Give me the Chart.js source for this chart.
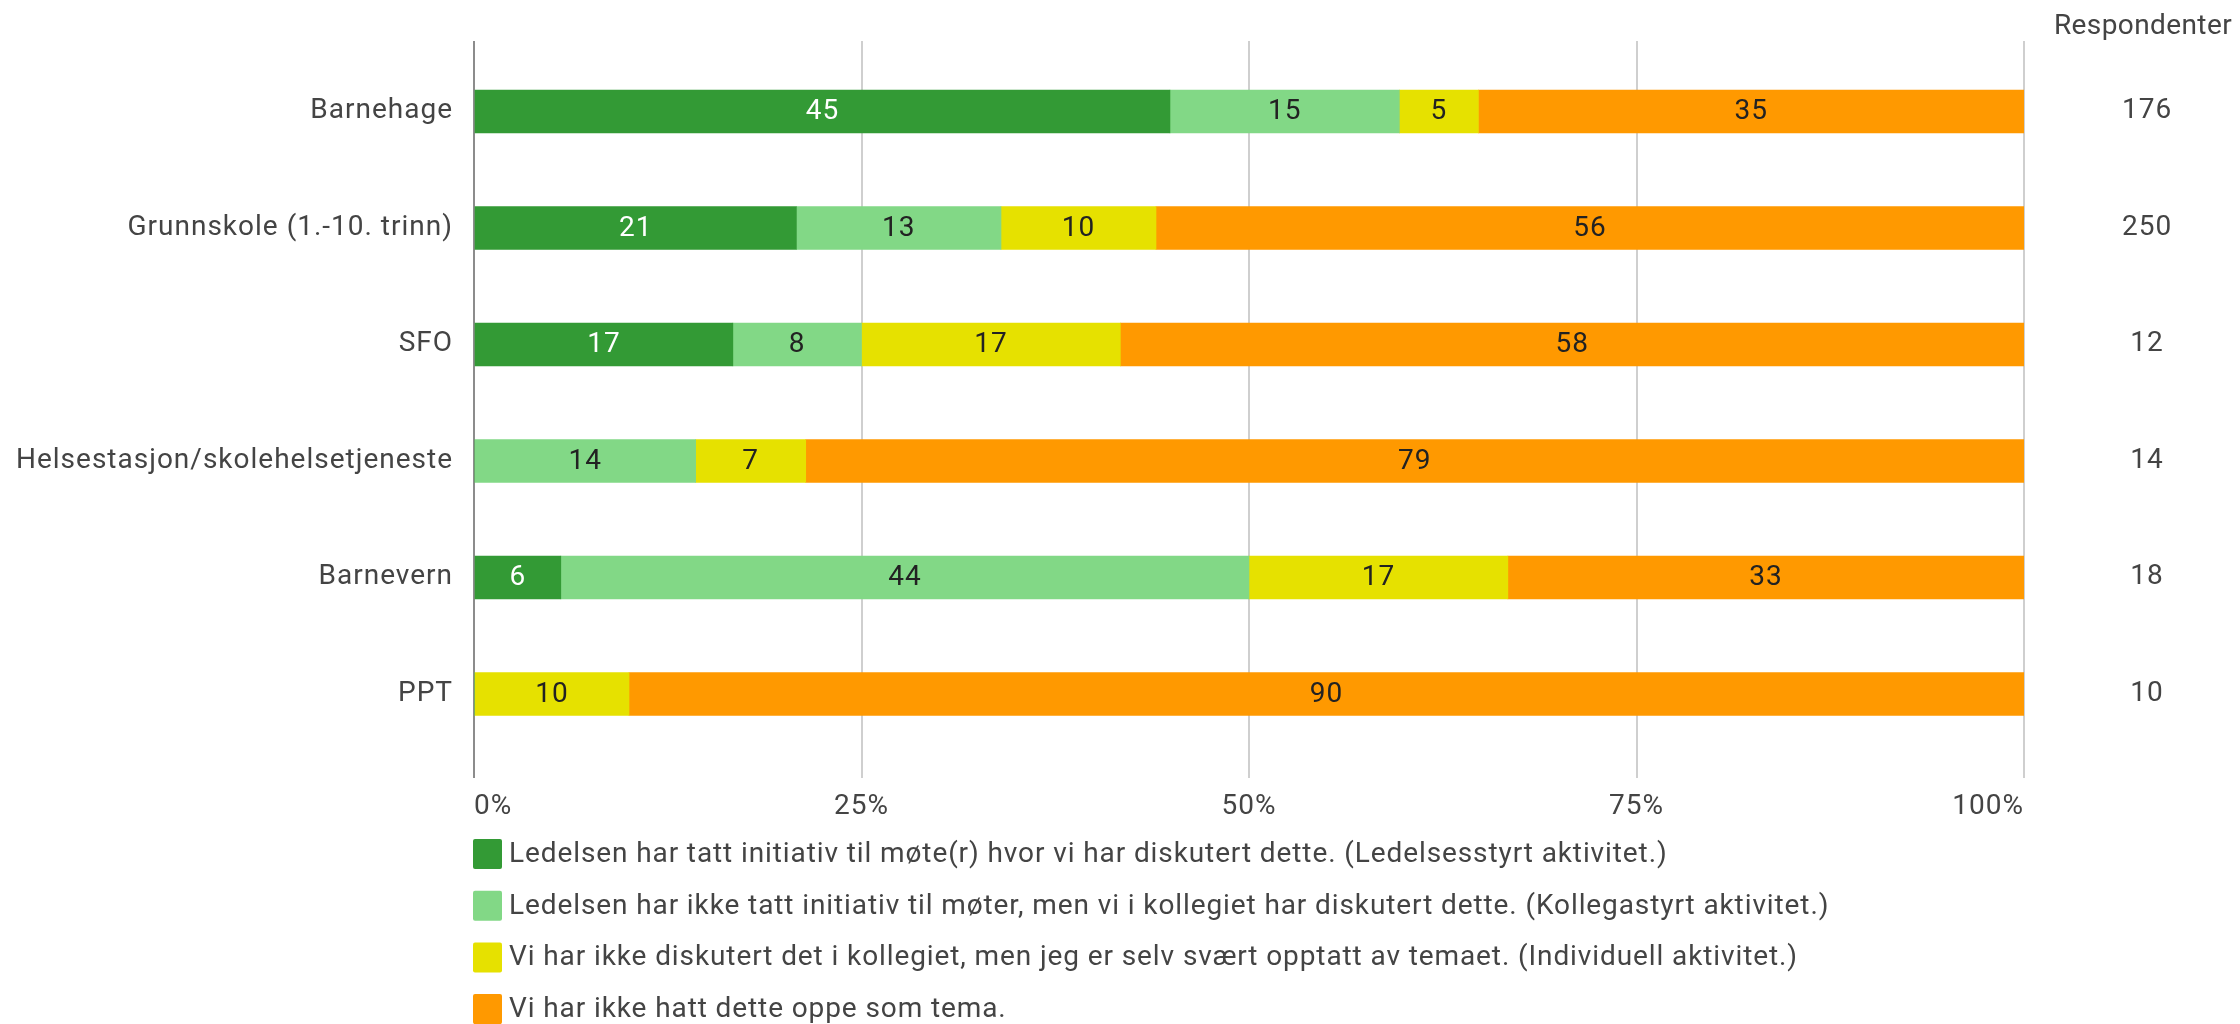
<!DOCTYPE html>
<html>
<head>
<meta charset="utf-8">
<script src="https://cdn.jsdelivr.net/npm/chart.js@4"></script>
<style>
html, body { margin: 0; padding: 0; background: #fff; }
</style>
</head>
<body>
<canvas id="myChart" width="2240" height="1024"></canvas>
<script>
const kategorier = ['Barnehage', 'Grunnskole (1.-10. trinn)', 'SFO', 'Helsestasjon/skolehelsetjeneste', 'Barnevern', 'PPT'];
const respondenter = [176, 250, 12, 14, 18, 10];
const serieNavn = [
    'Ledelsen har tatt initiativ til møte(r) hvor vi har diskutert dette. (Ledelsesstyrt aktivitet.)',
    'Ledelsen har ikke tatt initiativ til møter, men vi i kollegiet har diskutert dette. (Kollegastyrt aktivitet.)',
    'Vi har ikke diskutert det i kollegiet, men jeg er selv svært opptatt av temaet. (Individuell aktivitet.)',
    'Vi har ikke hatt dette oppe som tema.'
];
const ledelsesstyrt = [44.9, 20.8, 16.7, 0, 5.6, 0];
const kollegastyrt = [14.8, 13.2, 8.3, 14.3, 44.4, 0];
const individuell = [5.1, 10.0, 16.7, 7.1, 16.7, 10];
const ikkeTema = [35.2, 56.0, 58.3, 78.6, 33.3, 90];
const xTicks = [0, 25, 50, 75, 100];

const farger = ['#339a35', '#82d886', '#e6e100', '#ff9900'];
const fontFamilie = 'Roboto, "Noto Sans", sans-serif';
const bokstavAvstand = '1px';

Chart.defaults.font.family = fontFamilie;
Chart.defaults.font.size = 28;
Chart.defaults.color = '#444';

// y-aksen er lineær slik at rutenettet kan gå litt forbi første og siste stolpe
const yMin = -0.605;
const yMax = 5.721;

function tilPunkter(verdier) {
    return verdier.map((v, i) => ({ x: v, y: i }));
}

const serier = [ledelsesstyrt, kollegastyrt, individuell, ikkeTema];

// litt luft mellom bokstavene, som i originalen
const sperring = {
    id: 'sperring',
    beforeLayout(chart) { chart.ctx.letterSpacing = bokstavAvstand; },
    beforeDraw(chart) { chart.ctx.letterSpacing = bokstavAvstand; }
};

const verdiEtiketter = {
    id: 'verdiEtiketter',
    afterDatasetsDraw(chart) {
        const c = chart.ctx;
        c.save();
        c.font = '28px ' + fontFamilie;
        c.textAlign = 'center';
        c.textBaseline = 'middle';
        chart.data.datasets.forEach((ds, i) => {
            chart.getDatasetMeta(i).data.forEach((bar, j) => {
                const v = ds.data[j].x;
                if (!v) return;
                const p = bar.getProps(['x', 'y', 'base'], true);
                c.fillStyle = i === 0 ? '#ffffff' : '#222222';
                c.fillText(Math.round(v), (p.x + p.base) / 2, p.y + 1);
            });
        });
        c.restore();
    }
};

const egenLegende = {
    id: 'egenLegende',
    afterDraw(chart) {
        const c = chart.ctx;
        const left = chart.chartArea.left;
        c.save();
        c.font = '28px ' + fontFamilie;
        c.letterSpacing = '0.9px';
        c.textAlign = 'left';
        c.textBaseline = 'middle';
        chart.data.datasets.forEach((ds, i) => {
            const y = 854 + i * 51.7;
            c.fillStyle = ds.backgroundColor;
            c.beginPath();
            c.roundRect(left - 1, y - 15, 29, 30, 2);
            c.fill();
            c.fillStyle = '#444';
            c.fillText(ds.label, left + 35, y + 1);
        });
        // kolonnetittel til høyre
        c.letterSpacing = '0.4px';
        c.textAlign = 'center';
        c.fillText('Respondenter', 2143, 27);
        c.restore();
    }
};

const ctx = document.getElementById('myChart').getContext('2d');
new Chart(ctx, {
    type: 'bar',
    data: {
        datasets: serier.map((s, i) => ({
            label: serieNavn[i],
            data: tilPunkter(s),
            backgroundColor: farger[i],
            borderWidth: 0,
            barThickness: 43
        }))
    },
    options: {
        indexAxis: 'y',
        responsive: false,
        animation: false,
        layout: { padding: { top: 41, left: 0, right: 0, bottom: 0 } },
        plugins: {
            legend: { display: false },
            tooltip: { enabled: false }
        },
        scales: {
            x: {
                type: 'linear',
                stacked: true,
                min: 0,
                max: 100,
                afterBuildTicks: s => { s.ticks = xTicks.map(v => ({ value: v })); },
                afterFit: s => { s.height = 246; },
                border: { display: false },
                grid: {
                    drawTicks: false,
                    lineWidth: 2,
                    color: c => (c.tick && c.tick.value === 0) ? '#8c8c8c' : '#cfcfcf'
                },
                ticks: {
                    padding: 12,
                    align: 'inner',
                    maxRotation: 0,
                    callback: v => v + '%'
                }
            },
            y: {
                type: 'linear',
                stacked: true,
                reverse: true,
                offset: false,
                min: yMin,
                max: yMax,
                position: 'left',
                afterBuildTicks: s => { s.ticks = kategorier.map((k, i) => ({ value: i })); },
                afterFit: s => { s.width = 474; s.paddingTop = 0; s.paddingBottom = 0; },
                border: { display: false },
                grid: { display: false, drawTicks: false, offset: false },
                ticks: {
                    padding: 21,
                    callback: v => kategorier[v]
                }
            },
            y2: {
                type: 'linear',
                reverse: true,
                offset: false,
                min: yMin,
                max: yMax,
                position: 'right',
                afterBuildTicks: s => { s.ticks = respondenter.map((r, i) => ({ value: i })); },
                afterFit: s => { s.width = 216; s.paddingTop = 0; s.paddingBottom = 0; },
                border: { display: false },
                grid: { display: false, drawTicks: false, offset: false },
                ticks: {
                    padding: 98,
                    crossAlign: 'center',
                    callback: v => respondenter[v]
                }
            }
        }
    },
    plugins: [sperring, verdiEtiketter, egenLegende]
});
</script>
</body>
</html>
